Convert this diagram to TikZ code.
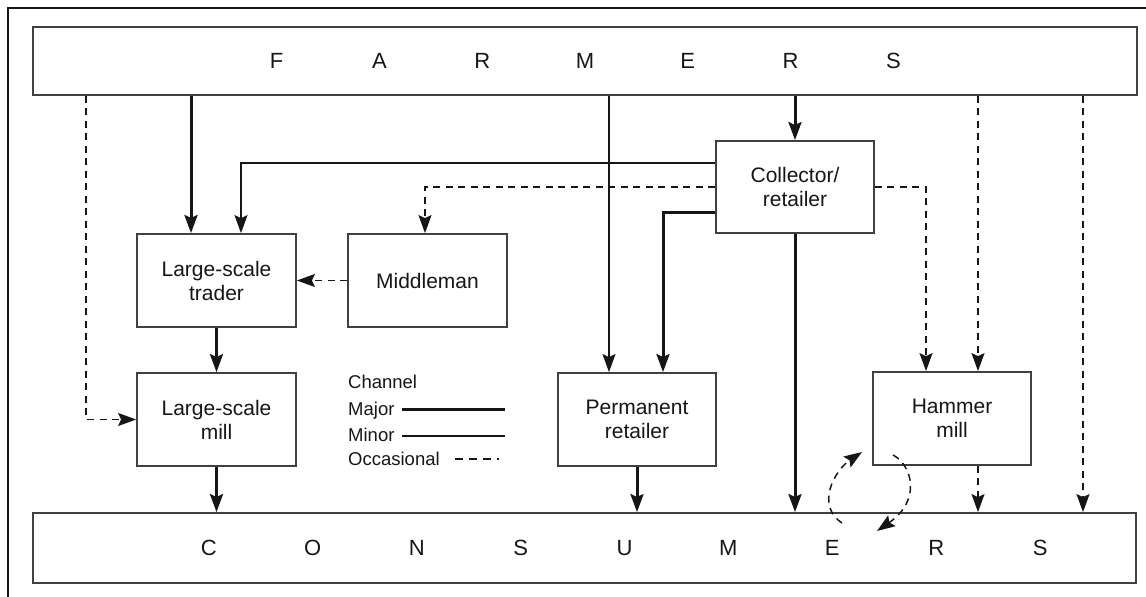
\documentclass[tikz,border=0pt]{standalone}
\usepackage{fontspec}
\setmainfont{Liberation Sans}
\usetikzlibrary{arrows.meta}
\definecolor{ink}{HTML}{161616}
\definecolor{edge}{HTML}{404040}
\newcommand\farmletter[1]{\makebox[102.8pt]{#1}}
\newcommand\consletter[1]{\makebox[103.9pt]{#1}}
\begin{document}
\begin{tikzpicture}[x=1pt,y=-1pt,
  box/.style={draw=edge, line width=1.8pt, minimum width=159pt, minimum height=93pt,
    inner sep=0pt, align=center, text=ink, font=\fontsize{21}{24}\selectfont},
  bar/.style={draw=edge, line width=1.8pt, inner sep=0pt, text=ink,
    font=\fontsize{22}{24}\selectfont},
  legendtext/.style={anchor=base west, inner sep=0pt, text=ink,
    font=\fontsize{18.5}{20}\selectfont},
  tip/.style={-{Stealth[length=18pt,width=13pt,inset=3pt]}},
  major/.style={draw=ink, line width=3pt, tip},
  minor/.style={draw=ink, line width=1.5pt, tip},
  occasional/.style={draw=ink, line width=1.5pt, dash pattern=on 7pt off 5.5pt, tip},
]
\useasboundingbox (0,0) rectangle (1146,597);

% outer frame (left and top edges)
\draw[ink, line width=2.2pt] (8,597) -- (8,8) -- (1146,8);

% the two bars
\node[bar, minimum width=1104pt, minimum height=68pt] (farmers) at (585,61)
  {\farmletter{F}\farmletter{A}\farmletter{R}\farmletter{M}\farmletter{E}\farmletter{R}\farmletter{S}};
\node[bar, minimum width=1103pt, minimum height=70pt] (consumers) at (584.5,548) {};
\node[inner sep=0pt, text=ink, font=\fontsize{22}{24}\selectfont] (consumerstext) at (624.5,548)
  {\consletter{C}\consletter{O}\consletter{N}\consletter{S}\consletter{U}\consletter{M}\consletter{E}\consletter{R}\consletter{S}};

% channel members
\node[box] (trader) at (216.5,280.5) {Large-scale\\trader};
\node[box] (mill)   at (216.5,419.5) {Large-scale\\mill};
\node[box] (middle) at (427.5,280.5) {Middleman};
\node[box, minimum width=158pt, minimum height=92pt] (coll) at (795,187) {Collector/\\retailer};
\node[box, minimum width=158pt] (perm)   at (637,419.5) {Permanent\\retailer};
\node[box, minimum width=158pt] (hammer) at (952,418.5) {Hammer\\mill};

% routing positions
\coordinate (xA) at (86,0);
\coordinate (xB) at (191,0);
\coordinate (xC) at (241,0);
\coordinate (xD) at (425,0);
\coordinate (xE) at (609,0);
\coordinate (xF) at (663,0);
\coordinate (xG) at (926,0);
\coordinate (xH) at (978,0);
\coordinate (xI) at (1083,0);
\coordinate (yMinor) at (0,163);
\coordinate (yOcc) at (0,187);
\coordinate (yMajor) at (0,212);

% connectors
\draw[occasional] (xA |- farmers.south) |- (mill.west);
\draw[major] (xB |- farmers.south) -- (xB |- trader.north);
\draw[minor] (coll.west |- yMinor) -| (xC |- trader.north);
\draw[occasional] (coll.west |- yOcc) -| (xD |- middle.north);
\draw[occasional] (coll.east |- yOcc) -| (xG |- hammer.north);
\draw[major] (coll.west |- yMajor) -| (xF |- perm.north);
\draw[minor] (xE |- farmers.south) -- (xE |- perm.north);
\draw[major] (coll.north |- farmers.south) -- (coll.north);
\draw[major] (coll.south) -- (coll.south |- consumers.north);
\draw[occasional] (xH |- farmers.south) -- (xH |- hammer.north);
\draw[occasional] (xI |- farmers.south) -- (xI |- consumers.north);
\draw[occasional] (middle.west) -- (trader.east);
\draw[major] (trader.south) -- (mill.north);
\draw[major] (mill.south) -- (mill.south |- consumers.north);
\draw[major] (perm.south) -- (perm.south |- consumers.north);
\draw[occasional] (xH |- hammer.south) -- (xH |- consumers.north);

% exchange loop between hammer mill and consumers
\coordinate (loopA0) at (842,523);
\coordinate (loopA1) at (862,452);
\coordinate (loopB0) at (893,455);
\coordinate (loopB1) at (877,531);
\draw[occasional] (loopA0) .. controls (815,505) and (835,470) .. (loopA1);
\draw[occasional] (loopB0) .. controls (912,465) and (922,500) .. (loopB1);

% legend
\node[legendtext] (lgch)  at (348,388) {Channel};
\node[legendtext] (lgmaj) at (348,415) {Major};
\node[legendtext] (lgmin) at (348,441) {Minor};
\node[legendtext] (lgocc) at (348,465) {Occasional};
\draw[ink, line width=3pt] (402,409) -- (505,409);
\draw[ink, line width=1.5pt] (402,436) -- (505,436);
\draw[ink, line width=1.5pt, dash pattern=on 8pt off 6pt] (455,459) -- (499,459);
\end{tikzpicture}
\end{document}
